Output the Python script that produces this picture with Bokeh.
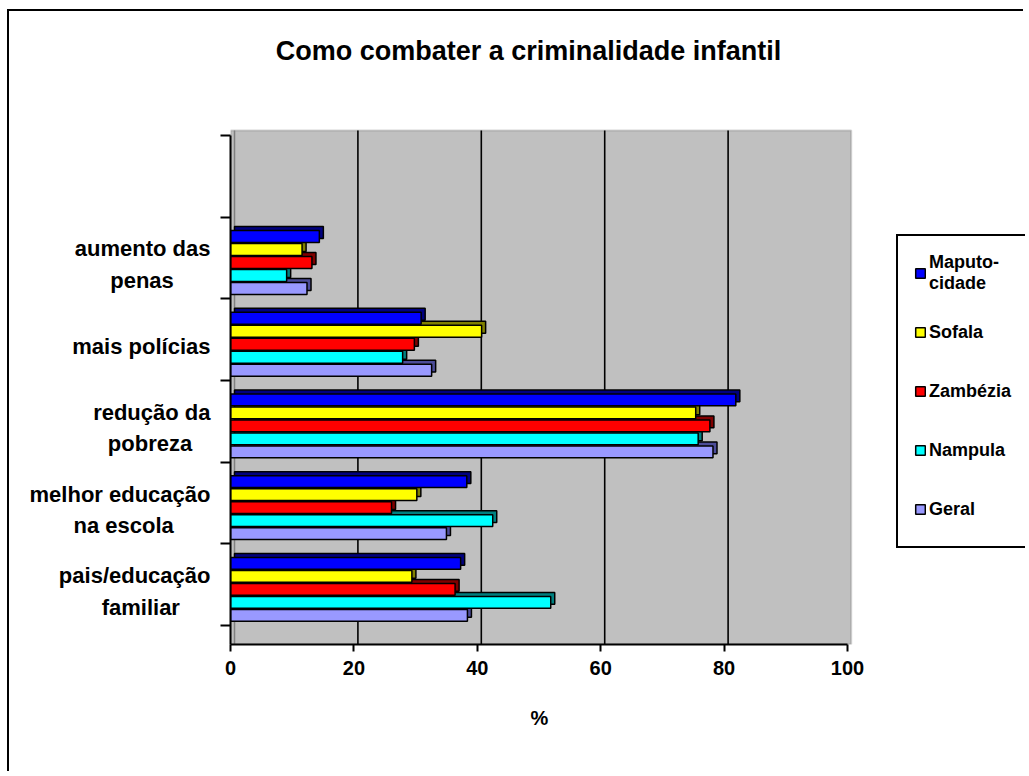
from bokeh.plotting import figure
from bokeh.models import (Range1d, FixedTicker, LinearAxis, Legend, LegendItem,
                          ColumnDataSource, BoxAnnotation, Label, Title)
from bokeh.transform import dodge
from bokeh.embed import file_html
from bokeh.resources import INLINE

# ---- data (bottom to top) ----
categories = ["pais/educação\nfamiliar", "melhor educação\nna escola",
              "redução da\npobreza", "mais polícias", "aumento das\npenas", ""]
series_names = ["Maputo-\ncidade", "Sofala", "Zambézia", "Nampula", "Geral"]
maputo = [37.3, 38.3, 81.9, 30.9, 14.4]
sofala = [29.4, 30.2, 75.4, 40.7, 11.6]
zambezia = [36.4, 26.1, 77.7, 29.8, 13.2]
nampula = [51.9, 42.5, 75.8, 27.9, 9.1]
geral = [38.4, 35.0, 78.2, 32.6, 12.4]
x_ticks = [0, 20, 40, 60, 80, 100]

front_colors = ["#0000FF", "#FFFF00", "#FF0000", "#00FFFF", "#9999FF"]
side_colors = ["#000080", "#808000", "#800000", "#008080", "#4C4C99"]

FONT = "Liberation Sans"
X_MAX = 100.6      # right edge of the grey wall
X_VIEW = 128.85    # extra room on the right for the legend
Y_MIN = -0.23
WALL_TOP = 6.06
Y_VIEW = 7.517     # extra room on top for the title
DEPTH_X = 0.65     # 3-D depth offset (x, in data units)
DEPTH_Y = 0.049    # 3-D depth offset (y, in data units)

p = figure(width=1016, height=762, output_backend="svg", toolbar_location=None,
           x_range=Range1d(0, X_VIEW), y_range=Range1d(Y_MIN, Y_VIEW),
           min_border_left=221, min_border_top=0, min_border_right=0,
           min_border_bottom=129)
p.styles = {"border-left": "2px solid black", "border-top": "2px solid black",
            "margin-left": "7px", "margin-top": "9px"}
p.background_fill_color = "white"
p.outline_line_color = None

wall = BoxAnnotation(left=0, right=X_MAX, top=WALL_TOP, fill_color="#C0C0C0",
                     fill_alpha=1, line_color="#707070", line_width=2, level="underlay")
p.add_layout(wall)

# title
p.add_layout(Label(x=298, y=594, x_units="screen", y_units="screen",
                   text="Como combater a criminalidade infantil",
                   text_font=FONT, text_font_style="bold", text_font_size="27px",
                   text_color="black", text_align="center", text_baseline="middle"))

# x axis
p.xaxis.ticker = FixedTicker(ticks=x_ticks)
p.xaxis.bounds = (0, 100)
p.xaxis.axis_line_width = 2
p.xaxis.major_tick_line_width = 2
p.xaxis.major_tick_out = 7
p.xaxis.major_tick_in = 0
p.xaxis.minor_tick_line_color = None
p.xaxis.major_label_text_font = FONT
p.xaxis.major_label_text_font_style = "bold"
p.xaxis.major_label_text_font_size = "20px"
p.xaxis.major_label_text_color = "black"
p.xaxis.major_label_standoff = 9
p.xgrid.grid_line_color = None
p.ygrid.grid_line_color = None

# x axis title, placed under the grey wall
p.add_layout(Title(text="%", align="left", offset=300, standoff=54,
                   text_font=FONT, text_font_style="bold", text_font_size="20px",
                   text_color="black"), "below")

# vertical grid lines on the back wall (shifted by the 3-D depth)
grid_x = [t + DEPTH_X for t in x_ticks[1:-1]]
p.segment(x0=grid_x, y0=[Y_MIN] * len(grid_x), x1=grid_x, y1=[WALL_TOP] * len(grid_x),
          line_color="black", line_width=1.6)
# back-wall left edge
p.segment(x0=[DEPTH_X], y0=[Y_MIN], x1=[DEPTH_X], y1=[WALL_TOP],
          line_color="#808080", line_width=1.5)

# y axis: boundary ticks only
n = len(categories)
bounds = list(range(n + 1))
p.yaxis.ticker = FixedTicker(ticks=bounds)
p.yaxis.bounds = (Y_MIN, n)
p.yaxis.major_label_overrides = {b: "" for b in bounds}
p.yaxis.axis_line_width = 2
p.yaxis.major_tick_line_width = 2
p.yaxis.major_tick_out = 10
p.yaxis.major_tick_in = 0
p.yaxis.minor_tick_line_color = None
p.yaxis.major_label_standoff = 0


def centred(label):
    # pad the shorter second line so that the two lines look centred
    lines = label.split("\n")
    if len(lines) == 2:
        pad = max(0, len(lines[0]) - len(lines[1]))
        lines[1] = lines[1] + "\u00a0" * pad
    return "\n".join(lines)


# category label axis
label_pos = [i + 0.5 - 0.08 for i in range(n)]
lab_axis = LinearAxis(ticker=FixedTicker(ticks=label_pos),
                      major_label_overrides={c: centred(t) for c, t in zip(label_pos, categories)})
lab_axis.axis_line_color = None
lab_axis.major_tick_line_color = None
lab_axis.minor_tick_line_color = None
lab_axis.major_label_standoff = 4
lab_axis.major_label_text_font = FONT
lab_axis.major_label_text_font_style = "bold"
lab_axis.major_label_text_font_size = "22px"
lab_axis.major_label_text_color = "black"
lab_axis.major_label_text_line_height = 1.25
p.add_layout(lab_axis, "left")

# bars
centers = [i + 0.5 for i in range(5)]
data = dict(y=centers, maputo=maputo, sofala=sofala, zambezia=zambezia,
            nampula=nampula, geral=geral)
src = ColumnDataSource(data)
keys = ["maputo", "sofala", "zambezia", "nampula", "geral"]
pitch = 0.159
bh = 0.145
shift = -0.055
offsets = [(2 - k) * pitch + shift for k in range(5)]

for k, key in enumerate(keys):
    src.data[key + "_side"] = [v + DEPTH_X for v in src.data[key]]
    p.hbar(y=dodge("y", offsets[k] + DEPTH_Y, range=p.y_range), left=DEPTH_X,
           right=key + "_side", height=bh, source=src, fill_color=side_colors[k],
           line_color="black", line_width=1.5)

items = []
for k, key in enumerate(keys):
    r = p.hbar(y=dodge("y", offsets[k], range=p.y_range), left=0, right=key,
               height=bh, source=src, fill_color=front_colors[k], line_color="black",
               line_width=1.5)
    items.append(LegendItem(label=series_names[k], renderers=[r]))

legend = Legend(items=items, location=(666, 96))
legend.label_text_font = FONT
legend.label_text_font_style = "bold"
legend.label_text_font_size = "18px"
legend.label_text_color = "black"
legend.label_height = 42
legend.label_width = 76
legend.glyph_width = 12
legend.glyph_height = 12
legend.label_standoff = 3
legend.spacing = 17
legend.padding = 16
legend.border_line_color = "black"
legend.border_line_alpha = 1
legend.border_line_width = 2
legend.background_fill_color = "white"
legend.background_fill_alpha = 1
legend.margin = 0
p.add_layout(legend, "center")

open("out.html", "w").write(file_html(p, INLINE))
